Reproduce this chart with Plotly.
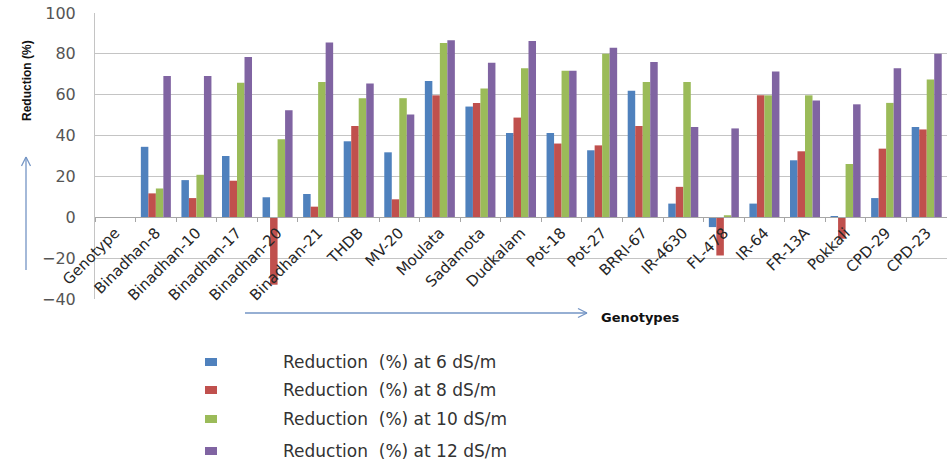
import plotly.graph_objects as go

# Genotypes on the category axis ("Genotype" is the header column with no data)
genotypes = ["Genotype", "Binadhan-8", "Binadhan-10", "Binadhan-17", "Binadhan-20",
             "Binadhan-21", "THDB", "MV-20", "Moulata", "Sadamota", "Dudkalam",
             "Pot-18", "Pot-27", "BRRI-67", "IR-4630", "FL-478", "IR-64", "FR-13A",
             "Pokkali", "CPD-29", "CPD-23"]

# Reduction (%) at each salinity level
red_6 = [None, 34.5, 18.2, 30.0, 9.8, 11.4, 37.2, 31.8, 66.7, 54.2, 41.3,
         41.3, 32.8, 62.0, 6.7, -4.8, 6.7, 27.9, 0.5, 9.4, 44.2]
red_8 = [None, 11.7, 9.4, 17.9, -33.0, 5.2, 44.7, 8.8, 59.7, 55.9, 48.8,
         36.1, 35.2, 44.7, 14.9, -18.7, 59.7, 32.3, -10.5, 33.6, 43.0]
red_10 = [None, 14.1, 20.8, 65.9, 38.2, 66.2, 58.3, 58.3, 85.3, 63.1, 73.0,
          71.7, 80.0, 66.2, 66.2, 1.0, 59.7, 59.7, 26.1, 56.0, 67.5]
red_12 = [None, 69.1, 69.1, 78.5, 52.4, 85.5, 65.5, 50.3, 86.7, 75.6, 86.3,
          71.7, 83.0, 76.0, 44.2, 43.5, 71.4, 57.2, 55.3, 73.0, 80.0]

series_names = ["Reduction  (%) at 6 dS/m", "Reduction  (%) at 8 dS/m",
                "Reduction  (%) at 10 dS/m", "Reduction  (%) at 12 dS/m"]
series_values = [red_6, red_8, red_10, red_12]
colors = ["#4F81BD", "#C0504D", "#9BBB59", "#8064A2"]

W, H = 947, 465
ML, MR, MT, MB = 95, 0, 13, 166
PW, PH = W - ML - MR, H - MT - MB
Y_MIN, Y_MAX = -40, 100


def px(x):
    return (x - ML) / PW


def py(y):
    return (MT + PH - y) / PH


fig = go.Figure()
for name, vals, col in zip(series_names, series_values, colors):
    fig.add_trace(go.Bar(x=genotypes, y=vals, name=name, marker_color=col,
                         marker_line_width=0, showlegend=False))

FONT = "DejaVu Sans"

fig.update_layout(
    width=W, height=H,
    margin=dict(l=ML, r=MR, t=MT, b=MB, pad=0),
    paper_bgcolor="white", plot_bgcolor="white",
    barmode="group", bargap=0.26, bargroupgap=0,
    font=dict(family=FONT, color="#333333"),
)

fig.update_xaxes(
    type="category", categoryorder="array", categoryarray=genotypes,
    anchor="free", position=(0 - Y_MIN) / (Y_MAX - Y_MIN),
    showline=True, linecolor="#A6A6A6", linewidth=1,
    ticks="outside", tickson="boundaries", ticklen=4, tickcolor="#A6A6A6",
    tickangle=-45, tickfont=dict(family=FONT, size=15, color="#262626"),
    showgrid=False, automargin=False,
)

fig.update_yaxes(
    range=[Y_MIN, Y_MAX], dtick=20, tick0=0,
    showgrid=True, gridcolor="#C4C4C4", gridwidth=1,
    zeroline=True, zerolinecolor="#A6A6A6", zerolinewidth=1,
    showline=True, linecolor="#C4C4C4", linewidth=1,
    ticks="", ticklabelstandoff=15,
    tickfont=dict(family=FONT, size=16, color="#555555"),
    automargin=False,
)

arrow_col = "#7394C4"
shapes = [
    # horizontal arrow under the axis labels
    dict(type="line", xref="paper", yref="paper", x0=px(245), y0=py(313), x1=px(587), y1=py(313),
         line=dict(color=arrow_col, width=1.3)),
    dict(type="line", xref="paper", yref="paper", x0=px(587), y0=py(313), x1=px(578), y1=py(308.5),
         line=dict(color=arrow_col, width=1.3)),
    dict(type="line", xref="paper", yref="paper", x0=px(587), y0=py(313), x1=px(578), y1=py(317.5),
         line=dict(color=arrow_col, width=1.3)),
    # vertical arrow beside the value axis
    dict(type="line", xref="paper", yref="paper", x0=px(26), y0=py(270), x1=px(26), y1=py(157),
         line=dict(color=arrow_col, width=1.3)),
    dict(type="line", xref="paper", yref="paper", x0=px(26), y0=py(157), x1=px(21.5), y1=py(166),
         line=dict(color=arrow_col, width=1.3)),
    dict(type="line", xref="paper", yref="paper", x0=px(26), y0=py(157), x1=px(30.5), y1=py(166),
         line=dict(color=arrow_col, width=1.3)),
]

annotations = [
    dict(text="<b>Reduction (%)</b>", xref="paper", yref="paper", x=px(27), y=py(81),
         textangle=-90, showarrow=False,
         font=dict(family="Liberation Sans Narrow, Liberation Sans", size=12, color="#111111"),
         xanchor="center", yanchor="middle"),
    dict(text="<b>Genotypes</b>", xref="paper", yref="paper", x=px(640), y=py(317),
         showarrow=False, font=dict(family=FONT, size=13, color="#111111"),
         xanchor="center", yanchor="middle"),
]

# legend block: colour swatches and labels
legend_rows = [362, 390, 419, 451]
for name, col, yc in zip(series_names, colors, legend_rows):
    shapes.append(dict(type="rect", xref="paper", yref="paper",
                       x0=px(205), x1=px(217), y0=py(yc - 4), y1=py(yc + 4),
                       fillcolor=col, line=dict(width=0)))
    annotations.append(dict(text=name, xref="paper", yref="paper", x=px(281), y=py(yc),
                            showarrow=False, xanchor="left", yanchor="middle",
                            font=dict(family=FONT, size=17, color="#333333")))

fig.update_layout(shapes=shapes, annotations=annotations)

fig.write_html("out.html")
